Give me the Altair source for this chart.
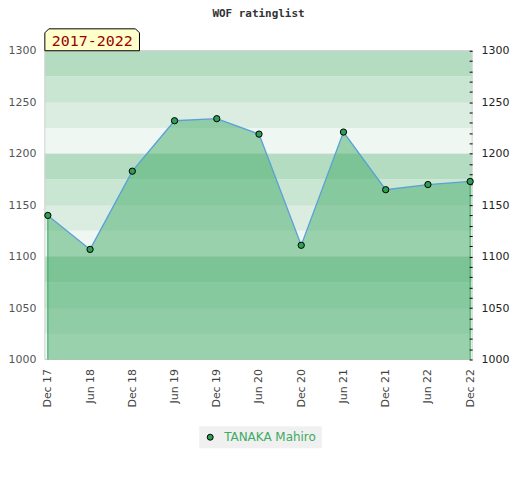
import altair as alt
import pandas as pd

# ---- data ----
periods = ["Dec 17", "Jun 18", "Dec 18", "Jun 19", "Dec 19", "Jun 20",
           "Dec 20", "Jun 21", "Dec 21", "Jun 22", "Dec 22"]
ratings = [1140, 1107, 1183, 1232, 1234, 1219, 1111, 1221, 1165, 1170, 1173]
player = "TANAKA Mahiro"
chart_title = "WOF ratinglist"
range_label = "2017-2022"
y_min, y_max = 1000, 1300
band_starts = list(range(1000, 1300, 25))
band_colors = ["#eef7f1", "#dbede1", "#c9e6d3", "#b3dcc1"] * 3
label_values = list(range(1000, 1301, 50))
minor_ticks = list(range(1000, 1301, 10))

W, H = 429, 310
GREEN = "#2f9f57"

df = pd.DataFrame({"period": periods, "rating": ratings, "player": player})
df["base"] = y_min
edges = df.iloc[[0, len(df) - 1]].copy()
bands = pd.DataFrame({"start": band_starts,
                      "end": [s + 25 for s in band_starts],
                      "color": band_colors})
grid = pd.DataFrame({"v": label_values})
lab = pd.DataFrame({"t": [range_label], "title": [chart_title]})

xs = alt.Scale(type="point", domain=periods, range=[3, W - 2], padding=0)
ys = alt.Scale(domain=[y_min, y_max], nice=False, zero=False)

x_enc = alt.X("period:N", sort=periods, scale=xs,
              axis=alt.Axis(title=None, labelAngle=-90, labelAlign="right",
                            labelBaseline="middle", labelPadding=9, ticks=False,
                            domain=False, labelColor="#444", labelFont="DejaVu Sans",
                            labelFontSize=11, grid=False))

band_layer = alt.Chart(bands).mark_rect().encode(
    x=alt.value(0), x2=alt.value(W),
    y=alt.Y("start:Q", scale=ys,
            axis=alt.Axis(orient="left", title=None, values=label_values, ticks=False,
                          domain=False, grid=False, labelPadding=9, labelColor="#555",
                          labelFont="DejaVu Sans", labelFontSize=11, format="d")),
    y2="end:Q",
    fill=alt.Color("color:N", scale=None),
)

grid_layer = alt.Chart(grid).mark_rule(color="#d6dcd8", strokeWidth=1, opacity=0.7).encode(
    y=alt.Y("v:Q", scale=ys,
            axis=alt.Axis(orient="right", title=None, values=minor_ticks, ticks=True,
                          tickSize=3, tickColor="#000", tickWidth=1, offset=-3,
                          domain=False, grid=False, format="d", zindex=1,
                          labelPadding=9, labelColor="#222", labelFont="DejaVu Sans",
                          labelFontSize=11,
                          labelExpr="datum.value % 50 == 0 ? datum.label : ''")),
)

frame = alt.Chart(lab).mark_rect(filled=False, stroke="#cfcfcf", strokeWidth=1).encode(
    x=alt.value(0), x2=alt.value(W), y=alt.value(0), y2=alt.value(H))

area = alt.Chart(df).mark_area(color="#46ac6a", opacity=0.5).encode(
    x=x_enc,
    y=alt.Y("rating:Q", scale=ys, axis=None),
    y2="base:Q",
)

edge_layer = alt.Chart(edges).mark_rule(color="#2ea85a", strokeWidth=1).encode(
    x=x_enc,
    y=alt.Y("rating:Q", scale=ys, axis=None),
    y2="base:Q",
)

line = alt.Chart(df).mark_line(color="#5aa0d8", strokeWidth=1.3).encode(
    x=x_enc,
    y=alt.Y("rating:Q", scale=ys, axis=None),
)

points = alt.Chart(df).mark_point(filled=True, stroke="#000", strokeWidth=1,
                                  size=40, opacity=1).encode(
    x=x_enc,
    y=alt.Y("rating:Q", scale=ys, axis=None),
    color=alt.Color("player:N", scale=alt.Scale(domain=[player], range=[GREEN]),
                    legend=alt.Legend(title=None, orient="none", legendX=155, legendY=377,
                                      fillColor="#f0f0f0", padding=5,
                                      symbolStrokeColor="#000", symbolStrokeWidth=1,
                                      symbolSize=36, symbolType="circle",
                                      labelColor="#3cab63", labelFont="DejaVu Sans",
                                      labelFontSize=12, labelOffset=8)),
)

box_path = "M -1 0.2316 L -1 -0.147 L -0.916 -0.2316 L 0.916 -0.2316 L 1 -0.147 L 1 0.2316 Z"
box = alt.Chart(lab).mark_point(shape=box_path, filled=True, fill="#ffffcc",
                                stroke="#000", strokeWidth=1, size=9025, opacity=1).encode(
    x=alt.value(47.5), y=alt.value(-11))
box_text = alt.Chart(lab).mark_text(font="DejaVu Sans Mono", fontSize=15, color="#990000",
                                    align="center", baseline="middle").encode(
    x=alt.value(47.5), y=alt.value(-10), text="t:N")
title_text = alt.Chart(lab).mark_text(font="DejaVu Sans Mono", fontSize=11, fontWeight="bold",
                                      color="#333", align="center", baseline="middle").encode(
    x=alt.value(W / 2), y=alt.value(-37), text="title:N")

chart = alt.layer(band_layer, grid_layer, frame, area, edge_layer, line, points,
                  box, box_text, title_text).resolve_axis(
    y="independent"
).properties(
    width=W, height=H,
    autosize=alt.AutoSizeParams(type="none"),
    padding={"left": 37, "top": 42, "right": 40, "bottom": 110},
).configure_view(stroke=None)

chart.save("out.html", embed_options={"renderer": "svg", "actions": False})
